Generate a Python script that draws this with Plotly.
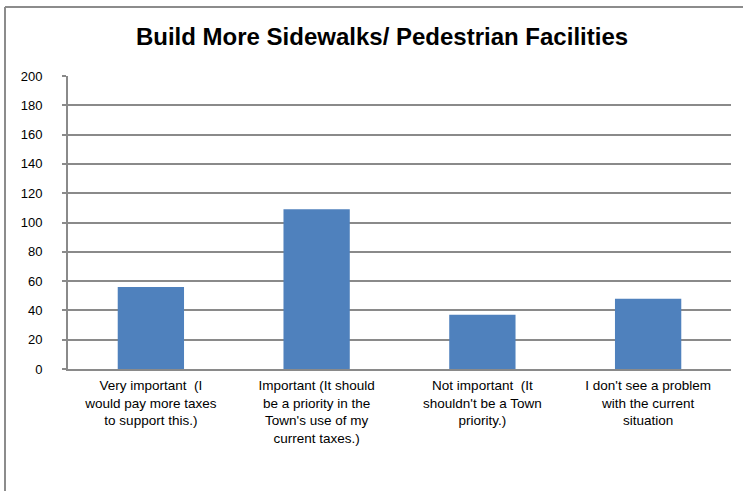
import plotly.graph_objects as go

categories = [
    "Very important  (I<br>would pay more taxes<br>to support this.)",
    "Important (It should<br>be a priority in the<br>Town's use of my<br>current taxes.)",
    "Not important  (It<br>shouldn't be a Town<br>priority.)",
    "I don't see a problem<br>with the current<br>situation",
]
values = [56, 109, 37, 48]
title = "Build More Sidewalks/ Pedestrian Facilities"
y_ticks = [0, 20, 40, 60, 80, 100, 120, 140, 160, 180, 200]

fig = go.Figure(go.Bar(x=categories, y=values, marker=dict(color="#4F81BD", line=dict(width=0))))

W, H = 743, 491
ml, mr, mt, mb = 68, 12, 76, 122
pw, ph = W - ml - mr, H - mt - mb

def px(x):
    return (x - ml) / pw

def py(y):
    return (H - mb - y) / ph

fig.update_layout(
    width=W, height=H,
    margin=dict(l=ml, r=mr, t=mt, b=mb),
    paper_bgcolor="white", plot_bgcolor="white",
    bargap=0.6,
    showlegend=False,
    font=dict(family="Liberation Sans, Arial, sans-serif", color="black", size=13),
    title=dict(text="<b>" + title + "</b>", x=px(382), xanchor="center", xref="paper",
               y=1 - 37 / H, yanchor="middle",
               font=dict(size=24, family="Liberation Sans, Arial, sans-serif", color="black")),
    shapes=[
        dict(type="line", xref="paper", yref="paper",
             x0=px(5), x1=px(5), y0=py(7), y1=py(600),
             line=dict(color="#8c8c8c", width=2), layer="above"),
        dict(type="line", xref="paper", yref="paper",
             x0=px(5), x1=px(900), y0=py(7), y1=py(7),
             line=dict(color="#8c8c8c", width=2), layer="above"),
    ],
)
fig.update_yaxes(range=[0, 200], tickvals=y_ticks, showgrid=True, gridcolor="#8a8a8a", gridwidth=2,
                 showline=True, linecolor="#8a8a8a", linewidth=2, ticks="outside", ticklen=4,
                 tickcolor="#8a8a8a", tickwidth=2, tickfont=dict(size=13), zeroline=False,
                 ticklabelstandoff=17)
fig.update_xaxes(showline=True, linecolor="#8a8a8a", linewidth=2, tickfont=dict(size=13.5), ticks="",
                 ticklabelstandoff=3)

fig.write_html("out.html", config={"displayModeBar": False},
               post_script="document.body.style.margin='0';document.body.style.overflow='hidden';")
